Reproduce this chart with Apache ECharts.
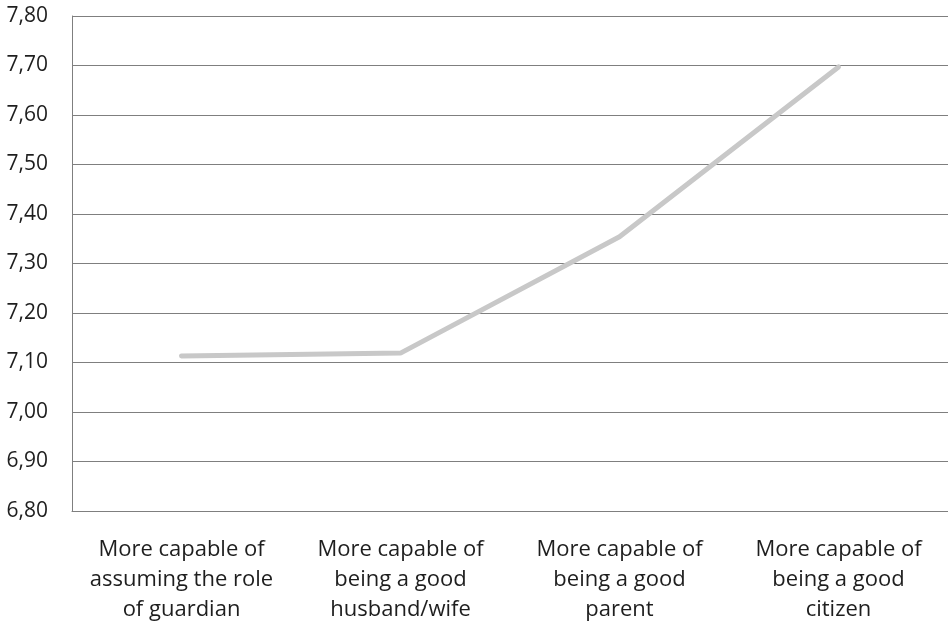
<!DOCTYPE html>
<html>
<head>
<meta charset="utf-8">
<script src="https://cdn.jsdelivr.net/npm/echarts@6/dist/echarts.min.js"></script>
<style>
  html, body { margin: 0; padding: 0; background: #fff; }
  #chart { width: 948px; height: 629px; }
</style>
</head>
<body>
<div id="chart"></div>
<script>
const categories = [
  'More capable of\nassuming the role\nof guardian',
  'More capable of\nbeing a good\nhusband/wife',
  'More capable of\nbeing a good\nparent',
  'More capable of\nbeing a good\ncitizen'
];
const values = [7.113, 7.119, 7.354, 7.697];
const yMin = 6.8, yMax = 7.8, yStep = 0.1;

const chart = echarts.init(document.getElementById('chart'));
chart.setOption({
  animation: false,
  textStyle: { fontFamily: 'Open Sans' },
  grid: { left: 72, right: -2, top: 16, bottom: 118 },
  xAxis: {
    type: 'category',
    data: categories,
    boundaryGap: true,
    axisLine: { lineStyle: { color: '#7f7f7f', width: 1 } },
    axisTick: { show: false },
    axisLabel: { color: '#1e1e1e', fontSize: 22, lineHeight: 30, margin: 24, interval: 0 }
  },
  yAxis: {
    type: 'value',
    min: yMin, max: yMax, interval: yStep,
    axisLine: { show: true, lineStyle: { color: '#7f7f7f', width: 1 } },
    axisTick: { show: false },
    splitLine: { lineStyle: { color: '#7f7f7f', width: 1 } },
    axisLabel: {
      color: '#1e1e1e', fontSize: 21, margin: 24,
      formatter: v => v.toFixed(2).replace('.', ',')
    }
  },
  series: [{
    type: 'line',
    data: values,
    symbol: 'none',
    lineStyle: { color: '#c8c8c8', width: 5, cap: 'round' }
  }]
});
</script>
</body>
</html>
